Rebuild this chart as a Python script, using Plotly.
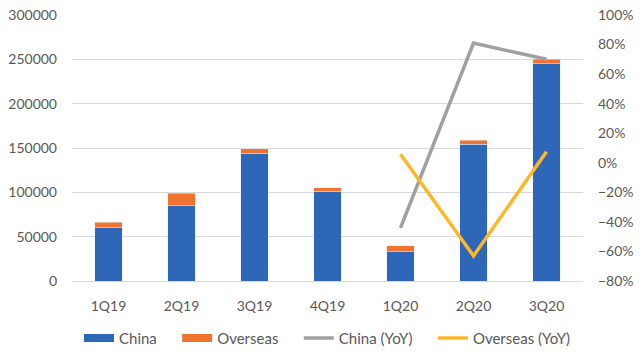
import plotly.graph_objects as go

quarters = ["1Q19", "2Q19", "3Q19", "4Q19", "1Q20", "2Q20", "3Q20"]
china = [60000, 85000, 144000, 101000, 33000, 154500, 245000]
overseas = [6000, 14000, 5000, 4000, 6500, 4500, 5000]
yoy_quarters = ["1Q20", "2Q20", "3Q20"]
china_yoy = [-0.44, 0.81, 0.70]
overseas_yoy = [0.057, -0.63, 0.075]

font_fam = "Lato, 'Open Sans', sans-serif"
tick_col = "#595959"
blue = "#2E67B8"
orange = "#F0732F"
grey = "#A0A0A0"
yellow = "#FDB827"

fig = go.Figure()
fig.add_trace(go.Bar(x=quarters, y=china, name="China", marker=dict(color=blue),
                     showlegend=False))
fig.add_trace(go.Bar(x=quarters, y=overseas, name="Overseas", marker=dict(color=orange),
                     showlegend=False))
fig.add_trace(go.Scatter(x=yoy_quarters, y=china_yoy, name="China (YoY)", mode="lines",
                         line=dict(color=grey, width=3.5), yaxis="y2", showlegend=False))
fig.add_trace(go.Scatter(x=yoy_quarters, y=overseas_yoy, name="Overseas (YoY)", mode="lines",
                         line=dict(color=yellow, width=3.5), yaxis="y2", showlegend=False))

# legend entries (wide swatches like the original)
pad = "\u00a0" * 4
for nm, col, w in [("China" + pad, blue, 8), ("Overseas" + pad, orange, 8),
                   ("China (YoY)" + pad, grey, 3.5), ("Overseas (YoY)", yellow, 3.5)]:
    fig.add_trace(go.Scatter(x=[None], y=[None], name=nm, mode="lines",
                             line=dict(color=col, width=w)))

fig.update_layout(
    barmode="stack",
    bargap=0.62,
    width=640, height=358,
    margin=dict(l=72, r=57, t=15, b=77, autoexpand=False),
    paper_bgcolor="white", plot_bgcolor="white",
    font=dict(family=font_fam, size=14, color=tick_col),
    xaxis=dict(showgrid=False, showline=True, linecolor="#D9D9D9", linewidth=1,
               ticks="", ticklabelstandoff=12, tickfont=dict(size=14, color=tick_col)),
    yaxis=dict(range=[0, 300000], dtick=50000, showgrid=True, gridcolor="#D9D9D9",
               gridwidth=1, zeroline=False, tickformat="d", ticks="",
               ticklabelstandoff=14, tickfont=dict(size=14, color=tick_col)),
    yaxis2=dict(overlaying="y", side="right", range=[-0.8, 1.0], dtick=0.2,
                tickformat=".0%", showgrid=False, zeroline=False, ticks="",
                ticklabelstandoff=14, tickfont=dict(size=14, color=tick_col)),
    legend=dict(orientation="h", x=0.5, xanchor="center", y=-0.215, yanchor="middle",
                font=dict(size=15, color=tick_col), traceorder="normal", itemwidth=30),
    showlegend=True,
)

fig.write_html("out.html", config={"displayModeBar": False},
               post_script="document.body.style.margin='0';")
